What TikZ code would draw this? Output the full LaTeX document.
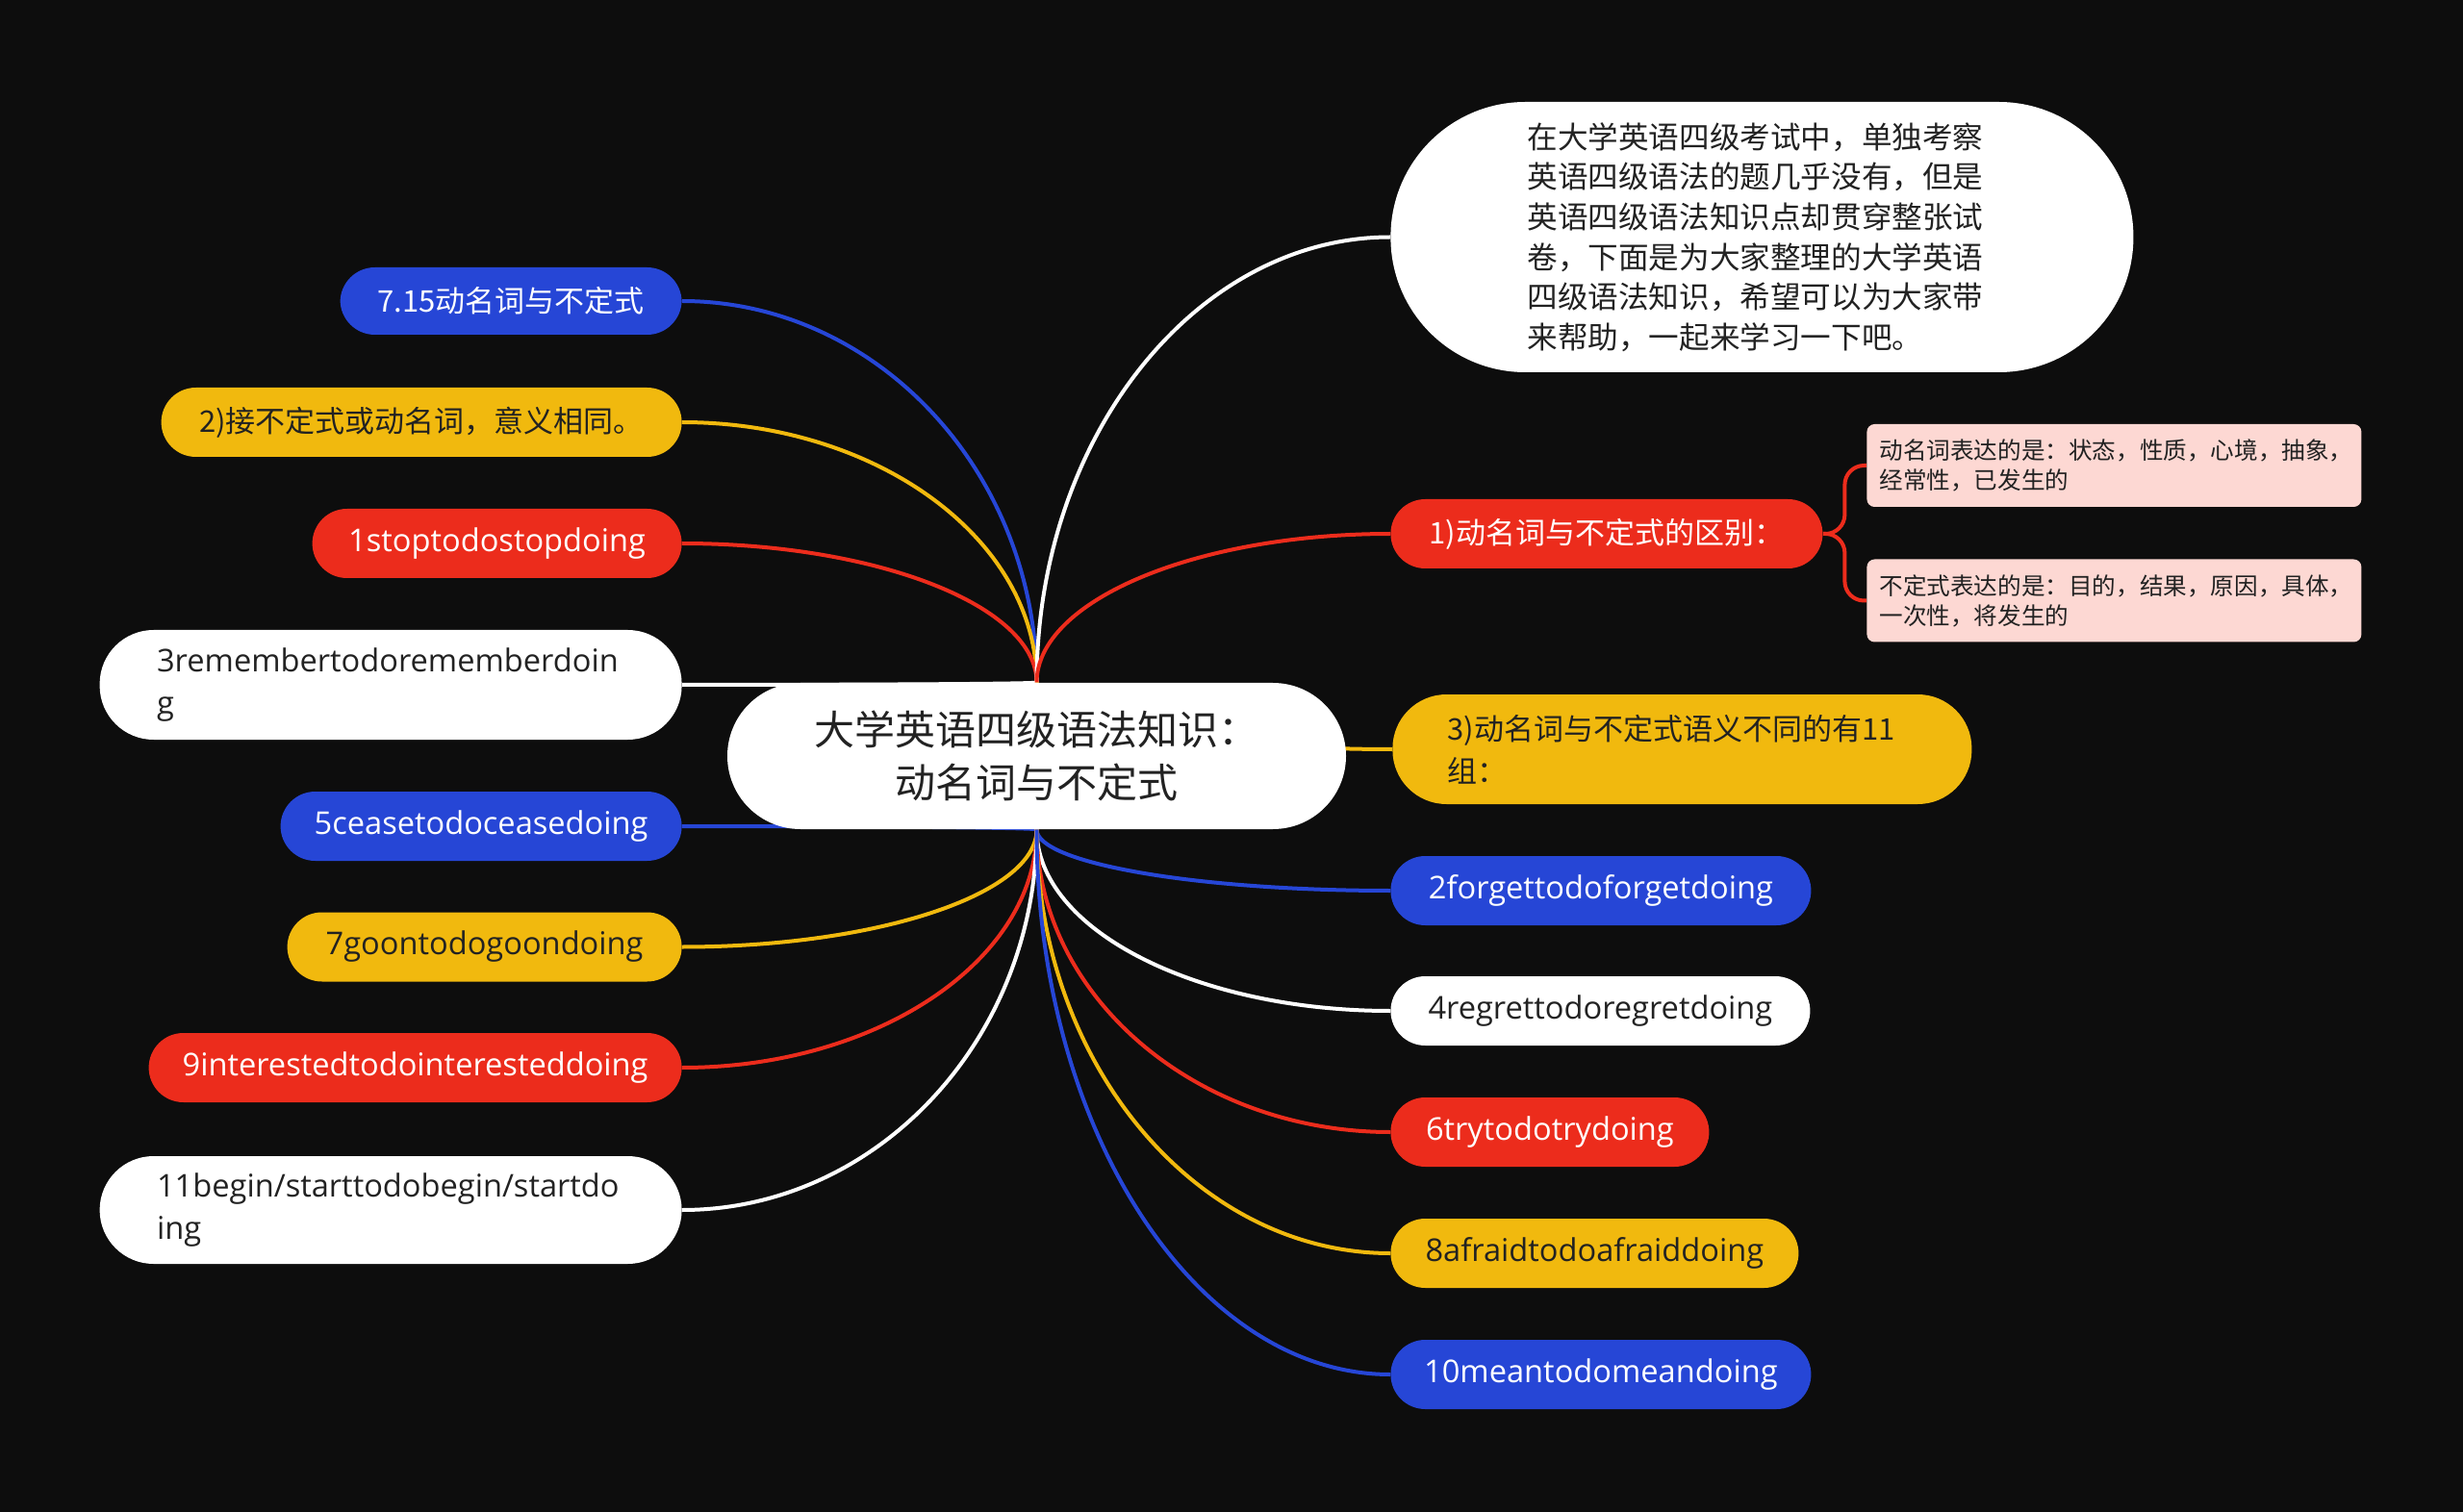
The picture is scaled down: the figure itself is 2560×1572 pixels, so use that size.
\documentclass[tikz,border=0pt]{standalone}
\usepackage{fontspec}
\setmainfont{Noto Sans CJK SC}
\newfontfamily\latin{Open Sans}
\usepackage{tikz}
\usetikzlibrary{calc}

\definecolor{bgc}{HTML}{0D0D0D}
\definecolor{mmblue}{HTML}{2646D6}
\definecolor{mmred}{HTML}{EC2C1C}
\definecolor{mmyellow}{HTML}{F1B90E}
\definecolor{mmpink}{HTML}{FDD8D3}
\definecolor{darktext}{HTML}{222222}

\pgfdeclarelayer{bg}
\pgfdeclarelayer{edges}
\pgfsetlayers{bg,edges,main}

\tikzset{
	topic/.style={rectangle, inner sep=0pt, minimum height=36pt,
		rounded corners=18pt, font=\fontsize{15.5}{22}\selectfont},
	entopic/.style={topic, font=\latin\fontsize{16.3}{22}\selectfont},
	bluebox/.style={fill=mmblue, text=white},
	redbox/.style={fill=mmred, text=white},
	yellowbox/.style={fill=mmyellow, text=darktext},
	whitebox/.style={fill=white, text=darktext},
	tallbox/.style={minimum height=57pt, rounded corners=28pt,
		text width=243pt, align=left},
	notebox/.style={rectangle, fill=mmpink, text=darktext, rounded corners=4pt,
		minimum width=257pt, minimum height=43pt, inner sep=0pt,
		text width=244pt, align=left, font=\fontsize{12.3}{15.5}\selectfont},
	link/.style={line width=2pt}
}

\begin{document}
\begin{tikzpicture}[x=0.5pt,y=-0.5pt]
		\useasboundingbox (0,0) rectangle (2560,1572);
		\begin{pgfonlayer}{bg}
			\fill[bgc] (0,0) rectangle (2560,1572);
		\end{pgfonlayer}

		\node[rectangle,
			fill=white,
			text=darktext,
			minimum width=321.5pt,
			minimum height=76pt,
			rounded corners=38pt,
			align=center,
			font=\fontsize{21}{27.8}\selectfont
		] (root) at (1077.5,786) {大学英语四级语法知识：\\动名词与不定式};

		% left side
		\node[topic, bluebox, minimum width=177.5pt, minimum height=35pt, anchor=east] (n715) at (709,313) {7.15动名词与不定式};
		\node[topic, yellowbox, minimum width=270.5pt, anchor=east] (n2same) at (709,439) {2)接不定式或动名词，意义相同。};
		\node[entopic, redbox, minimum width=192pt, anchor=east] (n1stop) at (709,565) {1stoptodostopdoing};
		\node[entopic, whitebox, tallbox, minimum width=302.5pt, anchor=east] (n3remember) at (709,712) {3remembertodorememberdoin\\g};
		\node[entopic, bluebox, minimum width=208.5pt, anchor=east] (n5cease) at (709,859) {5ceasetodoceasedoing};
		\node[entopic, yellowbox, minimum width=205pt, anchor=east] (n7goon) at (709,984.5) {7goontodogoondoing};
		\node[entopic, redbox, minimum width=277pt, anchor=east] (n9interested) at (709,1110) {9interestedtodointeresteddoing};
		\node[entopic, whitebox, tallbox, minimum width=302.5pt, minimum height=56pt, anchor=east] (n11begin) at (709,1258) {11begin/starttodobegin/startdo\\ing};

		% right side
		\node[rectangle,
			fill=white,
			text=darktext,
			minimum width=386pt,
			minimum height=140.5pt,
			rounded corners=70pt,
			inner sep=0pt,
			text width=244pt,
			align=left,
			anchor=west,
			font=\fontsize{15.8}{20.8}\selectfont
		] (intro) at (1445,246.5) {在大学英语四级考试中，单独考察\\英语四级语法的题几乎没有，但是\\英语四级语法知识点却贯穿整张试\\卷，下面是为大家整理的大学英语\\四级语法知识，希望可以为大家带\\来帮助，一起来学习一下吧。};
		\node[topic, redbox, minimum width=224.5pt, anchor=west] (diff) at (1445,555) {1)动名词与不定式的区别：};
		\node[notebox, anchor=west] (gerund) at (1940,484) {动名词表达的是：状态，性质，心境，抽象，\\经常性，已发生的};
		\node[notebox, anchor=west] (infinitive) at (1940,624.5) {不定式表达的是：目的，结果，原因，具体，\\一次性，将发生的};
		\node[topic, yellowbox, tallbox, text width=244pt, minimum width=301pt, anchor=west] (n3diff) at (1447,779) {3)动名词与不定式语义不同的有11\\组：};
		\node[entopic, bluebox, minimum width=218.5pt, anchor=west] (n2forget) at (1445,926) {2forgettodoforgetdoing};
		\node[entopic, whitebox, minimum width=218pt, anchor=west] (n4regret) at (1445,1051) {4regrettodoregretdoing};
		\node[entopic, redbox, minimum width=165.5pt, anchor=west] (n6try) at (1445,1177) {6trytodotrydoing};
		\node[entopic, yellowbox, minimum width=212pt, anchor=west] (n8afraid) at (1445,1303) {8afraidtodoafraiddoing};
		\node[entopic, bluebox, minimum width=218.5pt, anchor=west] (n10mean) at (1445,1429) {10meantodomeandoing};

		\begin{pgfonlayer}{edges}
			\foreach \kid/\side/\col/\tip in {
				n715/east/mmblue/north, n2same/east/mmyellow/north,
				n1stop/east/mmred/north, n3remember/east/white/north,
				n5cease/east/mmblue/south, n7goon/east/mmyellow/south,
				n9interested/east/mmred/south, n11begin/east/white/south,
				intro/west/white/north, diff/west/mmred/north,
				n3diff/west/mmyellow/north, n2forget/west/mmblue/south,
				n4regret/west/white/south, n6try/west/mmred/south,
				n8afraid/west/mmyellow/south, n10mean/west/mmblue/south}
			{
				\draw[link, \col] (\kid.\side)
					.. controls ($(\kid.\side)!0.55!(\kid.\side -| root.\tip)$)
					and ($(root.\tip)!0.55!(\kid.\side -| root.\tip)$) .. (root.\tip);
			}
			\draw[link, mmred, rounded corners=10pt] (diff.east) -- ($(diff.east)!0.5!(diff.east -| gerund.west)$) |- (gerund.west);
			\draw[link, mmred, rounded corners=10pt] (diff.east) -- ($(diff.east)!0.5!(diff.east -| infinitive.west)$) |- (infinitive.west);
		\end{pgfonlayer}
	\end{tikzpicture}
\end{document}
